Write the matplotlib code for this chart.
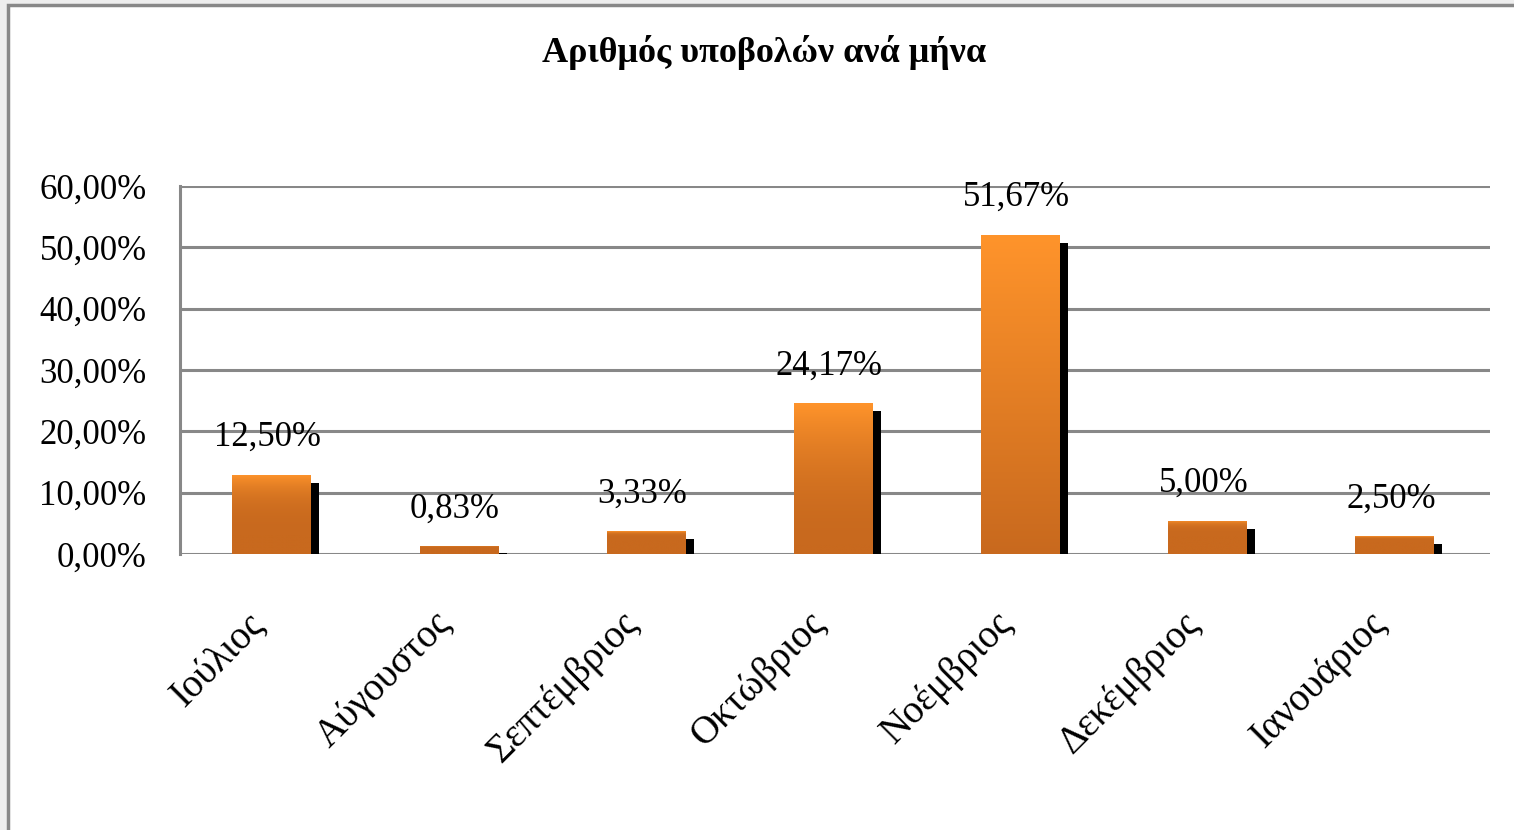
import matplotlib.pyplot as plt
import numpy as np
from matplotlib.colors import LinearSegmentedColormap
from matplotlib.patches import Rectangle
from matplotlib.transforms import ScaledTranslation

months = ["Ιούλιος", "Αύγουστος", "Σεπτέμβριος", "Οκτώβριος",
          "Νοέμβριος", "Δεκέμβριος", "Ιανουάριος"]
shares = [12.50, 0.83, 3.33, 24.17, 51.67, 5.00, 2.50]
yticks = [0, 10, 20, 30, 40, 50, 60]
title = "Αριθμός υποβολών ανά μήνα"

plt.rcParams["font.family"] = ["Liberation Serif", "DejaVu Serif"]

fig = plt.figure(figsize=(15.14, 8.30), dpi=100, facecolor="#eeeeee")
# chart frame (white with grey border, open at right/bottom)
fig.patches.append(Rectangle((8 / 1514, -0.05), 1.1, 1 - 5 / 830 + 0.05,
                             transform=fig.transFigure, facecolor="white",
                             edgecolor="#888888", lw=2.5, zorder=-5))

ax = fig.add_axes([180 / 1514, 1 - 554 / 830, 1310 / 1514, 368 / 830])
ax.set_zorder(2)
ax.set_facecolor("none")
ax.set_xlim(-0.5, len(months) - 0.5)
ax.set_ylim(0, 60)
ax.set_yticks(yticks)
ax.set_yticklabels([f"{v:.2f}%".replace(".", ",") for v in yticks], fontsize=25)
ax.yaxis.grid(True, color="#888888", lw=2.2)
ax.set_axisbelow(True)
for s in ["top", "right", "bottom"]:
    ax.spines[s].set_visible(False)
ax.spines["left"].set_color("#888888")
ax.spines["left"].set_linewidth(2.2)
ax.tick_params(axis="both", length=0)
ax.tick_params(axis="y", pad=24)

ax.set_xticks(range(len(months)))
ax.set_xticklabels(months, rotation=45, ha="right", va="top",
                   rotation_mode="anchor", fontsize=28)
ax.tick_params(axis="x", pad=37)
shift = ScaledTranslation(-28 / 100, 0, fig.dpi_scale_trans)
for lab in ax.get_xticklabels():
    lab.set_transform(lab.get_transform() + shift)

cmap = LinearSegmentedColormap.from_list("og", ["#c8691e", "#ff942b"])
w = 0.42
sw = 0.045
for i, v in enumerate(shares):
    x0 = i - w / 2 - 0.01
    top = v + 0.4
    # dark side of the bar
    ax.bar(x0 + w + sw / 2, max(v - 0.9, 0.2), width=sw, color="black",
           zorder=2)
    # short bars keep the light tone only near their top
    p = max(1.0, 52 / top)
    grad = (np.linspace(0, 1, 256) ** p).reshape(-1, 1)
    im = ax.imshow(grad, cmap=cmap, origin="lower", aspect="auto",
                   extent=[x0, x0 + w, 0, top], zorder=3, vmin=0, vmax=1)
    rect = Rectangle((x0, 0), w, top, transform=ax.transData,
                     facecolor="none", edgecolor="none")
    ax.add_patch(rect)
    im.set_clip_path(rect)
    ax.annotate(f"{v:.2f}%".replace(".", ","), (i - 0.03, top),
                xytext=(0, 15), textcoords="offset points",
                ha="center", va="bottom", fontsize=25, zorder=4)

ax.set_xlim(-0.5, len(months) - 0.5)
ax.set_ylim(0, 60)

fig.text(764 / 1514, 1 - 52 / 830, title, ha="center", va="center",
         fontsize=26, fontweight="bold")

fig.savefig("out.png", dpi=100, facecolor=fig.get_facecolor())
